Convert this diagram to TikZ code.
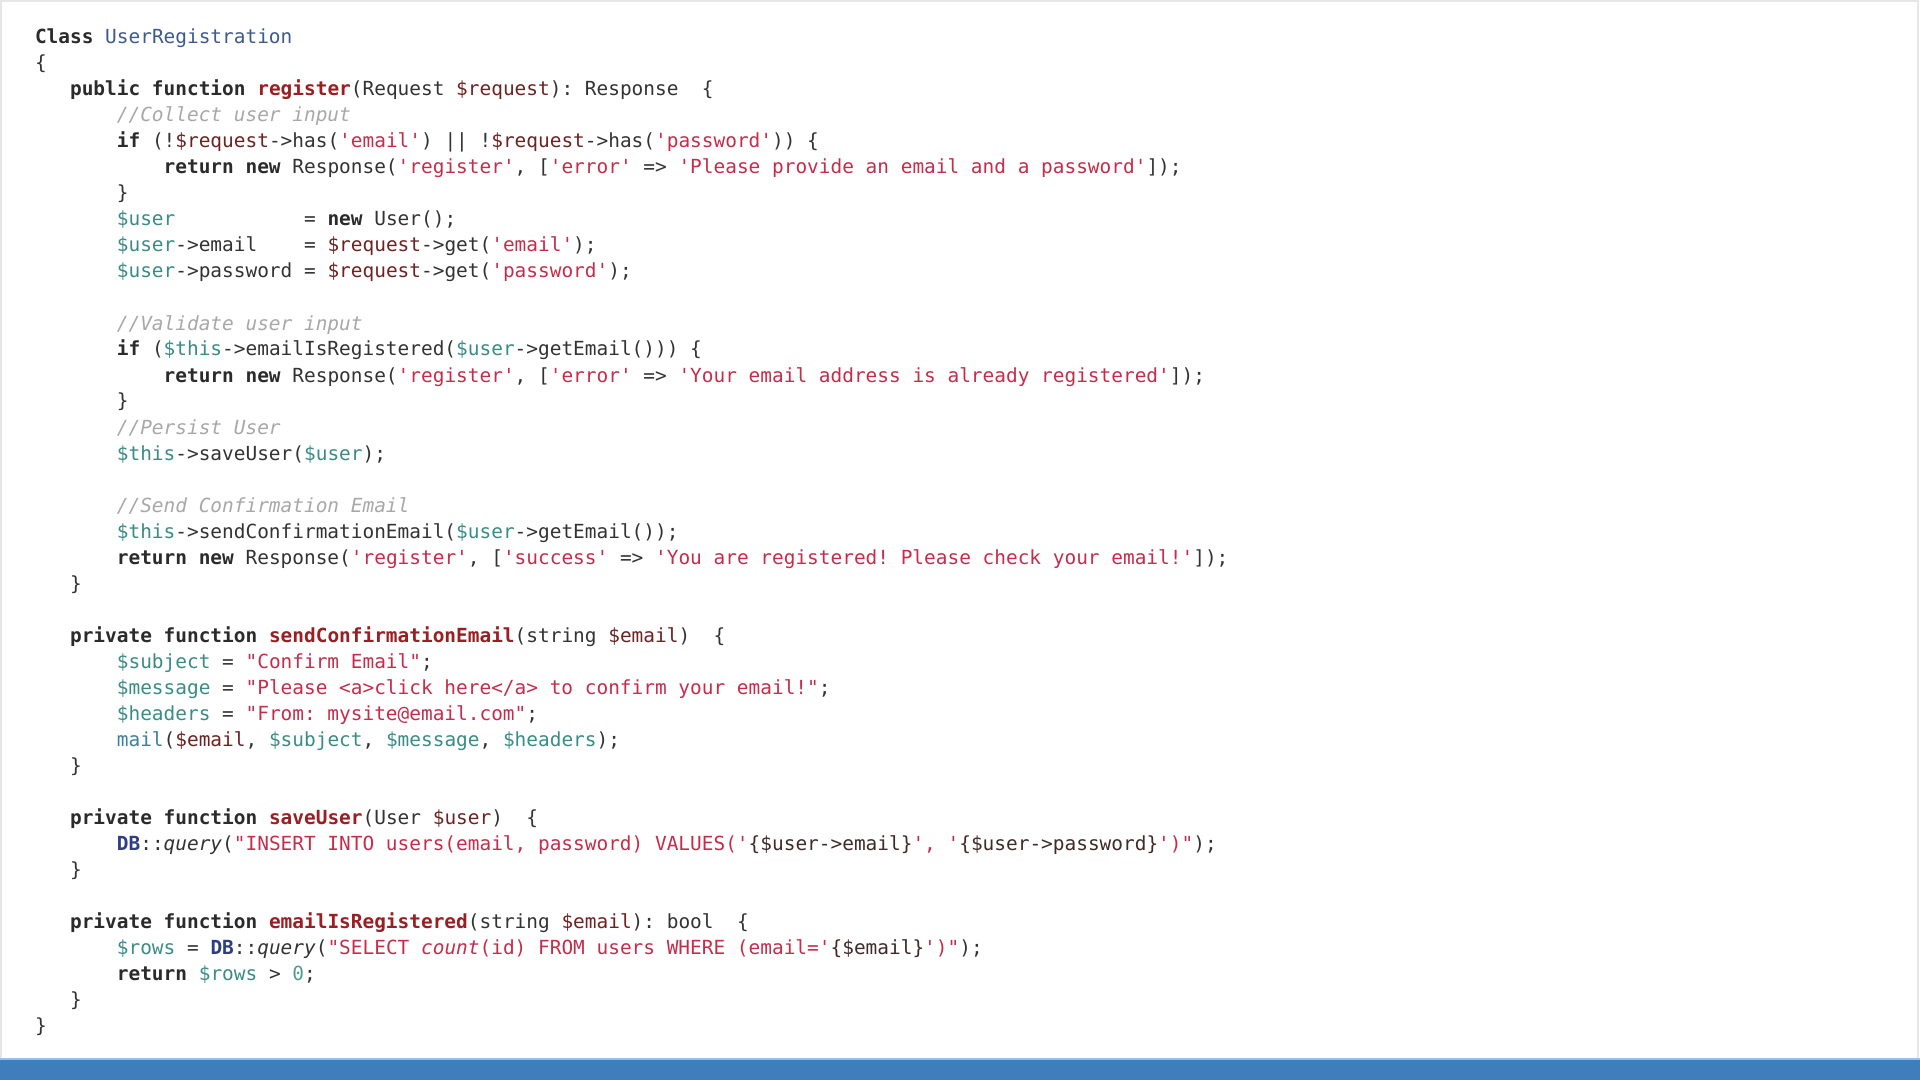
\documentclass[tikz,border=0pt]{standalone}
\usepackage{fontspec}
\setmonofont{DejaVu Sans Mono}
\definecolor{kw}{HTML}{2B2B2B}
\definecolor{txt}{HTML}{333333}
\definecolor{fn}{HTML}{9A1F23}
\definecolor{str}{HTML}{C42E4C}
\definecolor{cmt}{HTML}{A8A8A8}
\definecolor{var}{HTML}{3A8C86}
\definecolor{par}{HTML}{6E2323}
\definecolor{bltn}{HTML}{3D7F9E}
\definecolor{db}{HTML}{2E3E85}
\definecolor{cls}{HTML}{3E5A8E}
\definecolor{num}{HTML}{4E9C93}
\definecolor{interp}{HTML}{3F2B2B}
\definecolor{bar}{HTML}{3F7DBD}
\definecolor{barhi}{HTML}{9DBFE3}
\definecolor{edge}{HTML}{E6E6E6}
\newlength\chw
\setlength\chw{5.85pt}
\newcommand\SP[1]{\hspace*{#1\chw}}
\newcommand\K[1]{\textbf{\textcolor{kw}{#1}}}
\newcommand\F[1]{\textbf{\textcolor{fn}{#1}}}
\newcommand\V[1]{\textcolor{var}{\$#1}}
\newcommand\Pa[1]{\textcolor{par}{\$#1}}
\newcommand\Str[1]{\textcolor{str}{\textquotesingle #1\textquotesingle}}
\newcommand\DS[1]{\textcolor{str}{\textquotedbl #1\textquotedbl}}
\newcommand\Cm[1]{\textit{\textcolor{cmt}{#1}}}
\newcommand\DBk{\textbf{\textcolor{db}{DB}}}
\tikzset{
  codeline/.style={anchor=base west, inner sep=0pt, outer sep=0pt, text=txt,
    font=\ttfamily\fontsize{9.717pt}{12pt}\selectfont\frenchspacing},
}
\begin{document}
\begin{tikzpicture}[x=0.5pt,y=-0.5pt]
\useasboundingbox (0,0) rectangle (1920,1080);
\fill[white] (0,0) rectangle (1920,1080);
\draw[edge, line width=1pt] (1,1080) -- (1,1) -- (1918,1) -- (1918,1059);
\fill[bar] (0,1059) rectangle (1920,1080);
\fill[barhi] (0,1058) rectangle (1920,1059.5);
% column origins: level0 = 35, level1 = 35+3*11.7, level2 = 35+7*11.7, level3 = 35+11*11.7
\def\xa{35}\def\xb{70.1}\def\xc{116.9}\def\xd{163.7}
\node[codeline] (L1)  at (\xa, 44) {\K{Class} \textcolor{cls}{UserRegistration}};
\node[codeline] (L2)  at (\xa, 70) {\{};
\node[codeline] (L3)  at (\xb, 96) {\K{public function} \F{register}(Request \Pa{request}): Response\SP{2}\{};
\node[codeline] (L4)  at (\xc, 122) {\Cm{//Collect user input}};
\node[codeline] (L5)  at (\xc, 148) {\K{if} (!\Pa{request}->has(\Str{email}) || !\Pa{request}->has(\Str{password})) \{};
\node[codeline] (L6)  at (\xd, 174) {\K{return new} Response(\Str{register}, [\Str{error} => \Str{Please provide an email and a password}]);};
\node[codeline] (L7)  at (\xc, 200) {\}};
\node[codeline] (L8)  at (\xc, 226) {\V{user}\SP{11}= \K{new} User();};
\node[codeline] (L9)  at (\xc, 252) {\V{user}->email\SP{4}= \Pa{request}->get(\Str{email});};
\node[codeline] (L10) at (\xc, 278) {\V{user}->password = \Pa{request}->get(\Str{password});};
\node[codeline] (L12) at (\xc, 330) {\Cm{//Validate user input}};
\node[codeline] (L13) at (\xc, 356) {\K{if} (\V{this}->emailIsRegistered(\V{user}->getEmail())) \{};
\node[codeline] (L14) at (\xd, 382) {\K{return new} Response(\Str{register}, [\Str{error} => \Str{Your email address is already registered}]);};
\node[codeline] (L15) at (\xc, 408) {\}};
\node[codeline] (L16) at (\xc, 434) {\Cm{//Persist User}};
\node[codeline] (L17) at (\xc, 460) {\V{this}->saveUser(\V{user});};
\node[codeline] (L19) at (\xc, 512) {\Cm{//Send Confirmation Email}};
\node[codeline] (L20) at (\xc, 538) {\V{this}->sendConfirmationEmail(\V{user}->getEmail());};
\node[codeline] (L21) at (\xc, 564) {\K{return new} Response(\Str{register}, [\Str{success} => \Str{You are registered! Please check your email!}]);};
\node[codeline] (L22) at (\xb, 590) {\}};
\node[codeline] (L24) at (\xb, 642) {\K{private function} \F{sendConfirmationEmail}(string \Pa{email})\SP{2}\{};
\node[codeline] (L25) at (\xc, 668) {\V{subject} = \DS{Confirm Email};};
\node[codeline] (L26) at (\xc, 694) {\V{message} = \DS{Please <a>click here</a> to confirm your email!};};
\node[codeline] (L27) at (\xc, 720) {\V{headers} = \DS{From: mysite@email.com};};
\node[codeline] (L28) at (\xc, 746) {\textcolor{bltn}{mail}(\Pa{email}, \V{subject}, \V{message}, \V{headers});};
\node[codeline] (L29) at (\xb, 772) {\}};
\node[codeline] (L31) at (\xb, 824) {\K{private function} \F{saveUser}(User \Pa{user})\SP{2}\{};
\node[codeline] (L32) at (\xc, 850) {\DBk::\textit{query}(\textcolor{str}{\textquotedbl INSERT INTO users(email, password) VALUES(\textquotesingle}\textcolor{interp}{\{\$user->email\}}\textcolor{str}{\textquotesingle, \textquotesingle}\textcolor{interp}{\{\$user->password\}}\textcolor{str}{\textquotesingle)\textquotedbl});};
\node[codeline] (L33) at (\xb, 876) {\}};
\node[codeline] (L35) at (\xb, 928) {\K{private function} \F{emailIsRegistered}(string \Pa{email}): bool\SP{2}\{};
\node[codeline] (L36) at (\xc, 954) {\V{rows} = \DBk::\textit{query}(\textcolor{str}{\textquotedbl SELECT \textit{count}(id) FROM users WHERE (email=\textquotesingle}\textcolor{interp}{\{\$email\}}\textcolor{str}{\textquotesingle)\textquotedbl});};
\node[codeline] (L37) at (\xc, 980) {\K{return} \V{rows} > \textcolor{num}{0};};
\node[codeline] (L38) at (\xb, 1006) {\}};
\node[codeline] (L39) at (\xa, 1032) {\}};
\end{tikzpicture}
\end{document}
